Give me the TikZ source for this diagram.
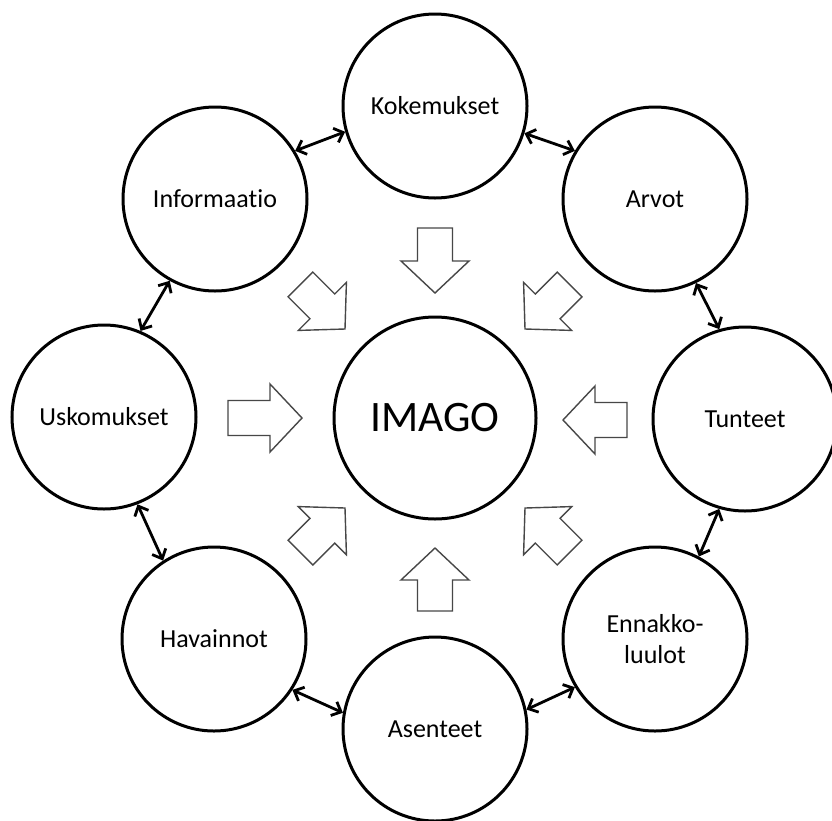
\documentclass[tikz,border=0pt]{standalone}
\usepackage{fontspec}
\setmainfont{Carlito}[RawFeature={-liga}]
\usetikzlibrary{arrows.meta}
\newcommand\blockarr[3]{%
  \draw[blk,shift={(#1)},rotate=#2] (0,0) -- (-32,34) -- (-32,17.5) -- (-#3,17.5) -- (-#3,-17.5) -- (-32,-17.5) -- (-32,-34) -- cycle;}
\begin{document}
\begin{tikzpicture}[x=1pt,y=-1pt,
  circ/.style={circle,draw=black,line width=3pt,minimum size=184pt,inner sep=0pt,
    font=\fontsize{26}{31}\selectfont,align=center},
  link/.style={line width=2.8pt,{Straight Barb[length=8pt,width=15pt]}-{Straight Barb[length=8pt,width=15pt]}},
  blk/.style={draw=black!72,line width=1.4pt,fill=white,line join=miter}]
\useasboundingbox (0,0) rectangle (832,820);
\fill[white] (0,0) rectangle (832,820);
% nodes
\node[circ,minimum size=202pt,font=\fontsize{43.5}{50}\selectfont] (imago) at (435,418) {IMAGO};
\node[circ] (koke) at (435,106) {Kokemukset};
\node[circ] (arvot) at (655,199) {Arvot};
\node[circ] (tunt) at (745,419) {Tunteet};
\node[circ] (enna) at (655,639) {Ennakko-\\luulot};
\node[circ] (asen) at (435,729) {Asenteet};
\node[circ] (hava) at (214,639) {Havainnot};
\node[circ] (usko) at (104,417) {Uskomukset};
\node[circ] (info) at (215,199) {Informaatio};
% double-headed links
\draw[link] (info.31) -- (koke.196);
\draw[link] (koke.343) -- (arvot.149);
\draw[link] (arvot.296) -- (tunt.106);
\draw[link] (tunt.254) -- (enna.62);
\draw[link] (enna.211) -- (asen.12);
\draw[link] (asen.170) -- (hava.327);
\draw[link] (hava.123) -- (usko.291);
\draw[link] (usko.67) -- (info.241);
% block arrows towards IMAGO
\blockarr{435,293}{-90}{65}
\blockarr{435,548}{90}{63}
\blockarr{302,418}{0}{74}
\blockarr{563,420}{180}{64}
\blockarr{345,329}{-45}{63}
\blockarr{525,329}{-135}{63}
\blockarr{345,508}{45}{63}
\blockarr{525,508}{135}{63}
\end{tikzpicture}
\end{document}
